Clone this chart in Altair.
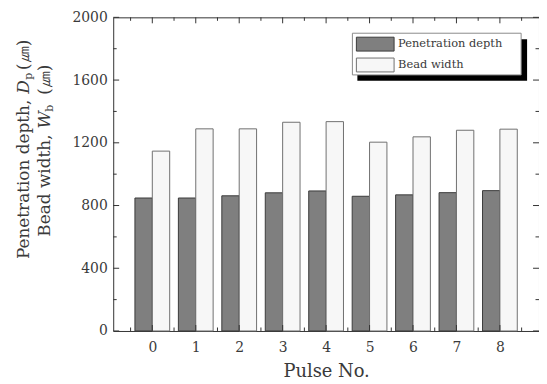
import altair as alt
import pandas as pd

# ---- data ----
pulses = [0, 1, 2, 3, 4, 5, 6, 7, 8]
penetration_depth = [848, 848, 862, 881, 893, 859, 868, 882, 895]
bead_width = [1147, 1289, 1289, 1331, 1335, 1204, 1238, 1280, 1287]
series_names = ["Penetration depth", "Bead width"]
series_fill = ["#7f7f7f", "#f7f7f7"]
series_stroke = ["#3a3a3a", "#707070"]
x_major = [0, 1, 2, 3, 4, 5, 6, 7, 8]
x_minor = [-0.5, 0.5, 1.5, 2.5, 3.5, 4.5, 5.5, 6.5, 7.5, 8.5]
y_major = [0, 400, 800, 1200, 1600, 2000]
y_minor = [200, 600, 1000, 1400, 1800]
x_title = "Pulse No."
y_title_1 = ["Penetration depth,", "D", "p", "(㎛)"]
y_title_2 = ["Bead width,", "W", "b", "(㎛)"]

W, H = 429, 316
X_DOM = [-0.9, 8.9]
Y_DOM = [0, 2000]
FONT = "DejaVu Serif"
AX = "#333333"
TXT = "#3a3a3a"
BAR_W = 0.4

rows = []
for i, p in enumerate(pulses):
    rows.append({"pulse": p, "series": series_names[0], "value": penetration_depth[i],
                 "x0": p - BAR_W, "x1": p})
    rows.append({"pulse": p, "series": series_names[1], "value": bead_width[i],
                 "x0": p, "x1": p + BAR_W})
df = pd.DataFrame(rows)

xs = alt.Scale(domain=X_DOM, nice=False, zero=False)
ys = alt.Scale(domain=Y_DOM, nice=False)

bars = alt.Chart(df).mark_rect(strokeWidth=1).encode(
    x=alt.X("x0:Q", scale=xs, axis=alt.Axis(
        values=x_major, tickSize=0, grid=False, domain=False,
        labelFont=FONT, labelFontSize=14, labelColor=TXT, labelPadding=10,
        title=x_title, titleFont=FONT, titleFontSize=18, titleFontWeight="normal",
        titleColor=TXT, titlePadding=8, labelFlush=False)),
    x2="x1",
    y=alt.Y("value:Q", scale=ys, axis=alt.Axis(
        values=y_major, format="d", tickSize=0, grid=False, domain=False,
        labelFont=FONT, labelFontSize=14, labelColor=TXT, labelPadding=6,
        title=None, labelFlush=False)),
    y2=alt.datum(0),
    fill=alt.Fill("series:N", scale=alt.Scale(domain=series_names, range=series_fill), legend=None),
    stroke=alt.Stroke("series:N", scale=alt.Scale(domain=series_names, range=series_stroke), legend=None),
)

# inward tick marks on all four sides (lengths converted from pixels to data units)
ux = (X_DOM[1] - X_DOM[0]) / W
uy = (Y_DOM[1] - Y_DOM[0]) / H
tick_rows = []
for v in x_major:
    tick_rows.append({"x": v, "x2": v, "y": Y_DOM[0], "y2": Y_DOM[0] + 6 * uy})
    tick_rows.append({"x": v, "x2": v, "y": Y_DOM[1], "y2": Y_DOM[1] - 6 * uy})
for v in x_minor:
    tick_rows.append({"x": v, "x2": v, "y": Y_DOM[0], "y2": Y_DOM[0] + 3.5 * uy})
    tick_rows.append({"x": v, "x2": v, "y": Y_DOM[1], "y2": Y_DOM[1] - 3.5 * uy})
for v in y_major:
    tick_rows.append({"x": X_DOM[0], "x2": X_DOM[0] + 6 * ux, "y": v, "y2": v})
    tick_rows.append({"x": X_DOM[1], "x2": X_DOM[1] - 6 * ux, "y": v, "y2": v})
for v in y_minor:
    tick_rows.append({"x": X_DOM[0], "x2": X_DOM[0] + 3.5 * ux, "y": v, "y2": v})
    tick_rows.append({"x": X_DOM[1], "x2": X_DOM[1] - 3.5 * ux, "y": v, "y2": v})
ticks = alt.Chart(pd.DataFrame(tick_rows)).mark_rule(color=AX, strokeWidth=1).encode(
    x=alt.X("x:Q", scale=xs, axis=None), x2="x2",
    y=alt.Y("y:Q", scale=ys, axis=None), y2="y2",
)

one = pd.DataFrame({"k": [0]})

# legend (decoration, in pixel space)
leg = [
    alt.Chart(one).mark_rect(fill="black").encode(
        x=alt.value(246), x2=alt.value(417), y=alt.value(22), y2=alt.value(64)),
    alt.Chart(one).mark_rect(fill="white", stroke="#8a8a8a", strokeWidth=1).encode(
        x=alt.value(241), x2=alt.value(411), y=alt.value(16), y2=alt.value(58)),
]
sw_y = [(20, 34), (41, 55)]
for i, name in enumerate(series_names):
    leg.append(alt.Chart(one).mark_rect(fill=series_fill[i], stroke=series_stroke[i], strokeWidth=1).encode(
        x=alt.value(245), x2=alt.value(283), y=alt.value(sw_y[i][0]), y2=alt.value(sw_y[i][1])))
    leg.append(alt.Chart(one).mark_text(
        text=name, font=FONT, fontSize=11.5, color=TXT, align="left", baseline="middle").encode(
        x=alt.value(287), y=alt.value((sw_y[i][0] + sw_y[i][1]) / 2)))


def title_line(parts, xc, y_pre, y_var, y_sub, y_unit):
    pre, var, sub, unit = parts
    return [
        alt.Chart(one).mark_text(text=pre, font=FONT, fontSize=17, color=TXT, angle=270,
                                 align="right", baseline="middle").encode(
            x=alt.value(xc), y=alt.value(y_pre)),
        alt.Chart(one).mark_text(text=var, font=FONT, fontSize=17, fontStyle="italic", color=TXT,
                                 angle=270, align="left", baseline="middle").encode(
            x=alt.value(xc), y=alt.value(y_var)),
        alt.Chart(one).mark_text(text=sub, font=FONT, fontSize=11, color=TXT, angle=270,
                                 align="left", baseline="middle").encode(
            x=alt.value(xc + 5), y=alt.value(y_sub)),
        alt.Chart(one).mark_text(text=unit, font=FONT, fontSize=17, color=TXT, angle=270,
                                 align="left", baseline="middle").encode(
            x=alt.value(xc), y=alt.value(y_unit)),
    ]


OX, OY = 114, 16  # page position of the plot origin
ytitle = title_line(y_title_1, 24 - OX, 99 - OY, 93 - OY, 79 - OY, 69 - OY) + \
    title_line(y_title_2, 45 - OX, 134 - OY, 128 - OY, 111 - OY, 94 - OY)

chart = alt.layer(bars, ticks, *leg, *ytitle).resolve_axis(
    x="independent", y="independent"
).properties(
    width=W, height=H,
    padding={"left": 106, "top": 8, "right": 0, "bottom": 52},
    autosize=alt.AutoSizeParams(type="none"),
).configure_view(stroke=AX, strokeWidth=1)

chart.save("out.html", embed_options={"renderer": "svg", "actions": False})
